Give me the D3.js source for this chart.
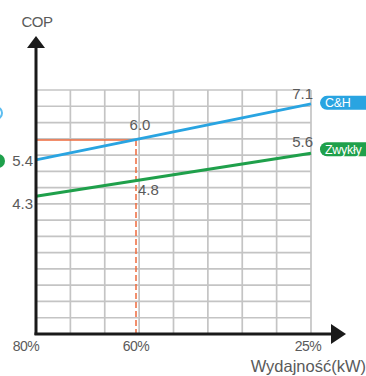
<!DOCTYPE html>
<html>
<head>
<meta charset="utf-8">
<script src="https://cdn.jsdelivr.net/npm/d3@7"></script>
<style>
  body { margin: 0; background: #fff; overflow: hidden; }
  svg { display: block; font-family: "Liberation Sans", Arial, sans-serif; }
</style>
</head>
<body>
<svg id="chart"></svg>
<script>
let width = 366;
let height = 376;

// capacity (%) at the two ends of each line
let capacity = [80, 25];
let chCop = [5.4, 7.1];
let normalCop = [4.3, 5.6];

// read-off point
let markCapacity = 60;
let markCh = 6.0;
let markNormal = 4.8;

let xTicks = [80, 60, 25];
let seriesNames = ['C&H', 'Zwykły'];
let colors = ['#29a4e1', '#1fa04b'];

let gridCols = 8;
let gridRows = 15;

let plotLeft = 36, plotRight = 311, plotTop = 90, plotBottom = 334;

let svg = d3.select('#chart')
  .attr('width', width)
  .attr('height', height);

let x = d3.scaleLinear().domain([80, 25]).range([plotLeft, plotRight]);
let y = d3.scaleLinear().domain([0.12, 7.52]).range([plotBottom, plotTop]);

let gx = d3.scaleLinear().domain([0, gridCols]).range([plotLeft, plotRight]);
let gy = d3.scaleLinear().domain([0, gridRows]).range([plotBottom, plotTop]);

let gridColor = '#c4c4c4';

// grid
svg.append('g')
  .selectAll('line')
  .data(d3.range(1, gridCols + 1))
  .enter()
  .append('line')
  .attr('x1', (d) => gx(d))
  .attr('x2', (d) => gx(d))
  .attr('y1', plotTop)
  .attr('y2', plotBottom)
  .attr('stroke', gridColor)
  .attr('stroke-width', 1.7);

svg.append('g')
  .selectAll('line')
  .data(d3.range(1, gridRows + 1))
  .enter()
  .append('line')
  .attr('x1', plotLeft)
  .attr('x2', plotRight)
  .attr('y1', (d) => gy(d))
  .attr('y2', (d) => gy(d))
  .attr('stroke', gridColor)
  .attr('stroke-width', 1.7);

// red guide lines
let red = '#ee6a3c';
svg.append('line')
  .attr('x1', plotLeft)
  .attr('x2', x(markCapacity))
  .attr('y1', y(markCh))
  .attr('y2', y(markCh))
  .attr('stroke', red)
  .attr('stroke-width', 1.5);

svg.append('line')
  .attr('x1', x(markCapacity))
  .attr('x2', x(markCapacity))
  .attr('y1', y(markCh))
  .attr('y2', plotBottom)
  .attr('stroke', red)
  .attr('stroke-width', 1.5)
  .attr('stroke-dasharray', '6,3');

// series lines
let series = [chCop, normalCop];
let line = d3.line()
  .x((d, i) => x(capacity[i]))
  .y((d) => y(d));

series.forEach((s, i) => {
  svg.append('path')
    .datum(s)
    .attr('d', line)
    .attr('fill', 'none')
    .attr('stroke', colors[i])
    .attr('stroke-width', 3);
});

// axes
svg.append('line')
  .attr('x1', plotLeft)
  .attr('x2', plotLeft)
  .attr('y1', 46)
  .attr('y2', plotBottom + 1)
  .attr('stroke', '#1a1a1a')
  .attr('stroke-width', 3);

svg.append('path')
  .attr('d', `M${plotLeft},36 L${plotLeft - 9},48 L${plotLeft + 9},48 Z`)
  .attr('fill', '#1a1a1a');

svg.append('line')
  .attr('x1', plotLeft - 1.5)
  .attr('x2', 334)
  .attr('y1', plotBottom)
  .attr('y2', plotBottom)
  .attr('stroke', '#1a1a1a')
  .attr('stroke-width', 3);

svg.append('path')
  .attr('d', `M346,${plotBottom} L331,${plotBottom - 10} L331,${plotBottom + 10} Z`)
  .attr('fill', '#1a1a1a');

let textColor = '#5a5a5a';

function label(txt, tx, ty, anchor, size) {
  return svg.append('text')
    .text(txt)
    .attr('x', tx)
    .attr('y', ty)
    .attr('text-anchor', anchor || 'middle')
    .attr('fill', textColor)
    .style('font-size', (size || 15) + 'px');
}

label('COP', 37, 27, 'middle', 15).style('letter-spacing', '-0.5px');
label('Wydajność(kW)', 366, 372, 'end', 16.5);

// x tick labels
xTicks.forEach((t) => {
  let tx = x(t);
  let ty = 351;
  if (t === 80) tx -= 10;
  if (t === 25) tx -= 3;
  label(t + '%', tx, ty, 'middle', 14).style('letter-spacing', '-0.5px');
});

// value labels
let fmt = d3.format('.1f');
label(fmt(chCop[0]), 33, 166, 'end');
label(fmt(normalCop[0]), 33, 209, 'end');
label(fmt(chCop[1]), x(25) + 2, y(chCop[1]) - 5, 'end');
label(fmt(normalCop[1]), x(25) + 2, y(normalCop[1]) - 6, 'end');
label(fmt(markCh), x(markCapacity) + 4, y(markCh) - 10, 'middle');
label(fmt(markNormal), x(markCapacity) + 2, y(markNormal) + 15, 'start');

// legend pills on the right (cut by the frame)
let pillY = [y(chCop[1]) - 1, y(normalCop[1]) - 4];
seriesNames.forEach((n, i) => {
  svg.append('rect')
    .attr('x', 320)
    .attr('y', pillY[i] - 7)
    .attr('width', 90)
    .attr('height', 14)
    .attr('rx', 7)
    .attr('fill', colors[i]);

  svg.append('text')
    .text(n)
    .attr('x', 325)
    .attr('y', pillY[i] + 4.5)
    .attr('fill', '#fff')
    .style('font-size', '12.5px')
    .style('letter-spacing', '-0.3px');
});

// legend dots on the left (cut by the frame)
svg.append('circle')
  .attr('cx', -4)
  .attr('cy', 113)
  .attr('r', 6)
  .attr('fill', '#fff')
  .attr('stroke', '#5cbdf0')
  .attr('stroke-width', 2);

svg.append('circle')
  .attr('cx', -2)
  .attr('cy', 161)
  .attr('r', 7)
  .attr('fill', colors[1]);
</script>
</body>
</html>
